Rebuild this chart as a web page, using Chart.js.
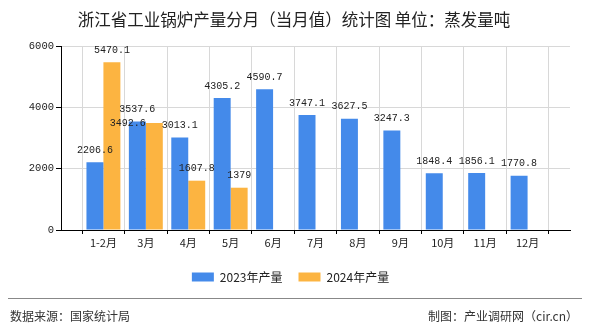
<!DOCTYPE html>
<html>
<head>
<meta charset="utf-8">
<script src="https://cdn.jsdelivr.net/npm/chart.js@4/dist/chart.umd.min.js"></script>
<style>
html,body{margin:0;padding:0;background:#fff;}
#wrap{width:590px;height:330px;position:relative;}
</style>
</head>
<body>
<div id="wrap"><canvas id="c" width="590" height="330"></canvas></div>
<script>
const categories = ['1-2月','3月','4月','5月','6月','7月','8月','9月','10月','11月','12月'];
const series2023 = [2206.6,3537.6,3013.1,4305.2,4590.7,3747.1,3627.5,3247.3,1848.4,1856.1,1770.8];
const series2024 = [5470.1,3492.6,1607.8,1379,null,null,null,null,null,null,null];
const seriesNames = ['2023年产量','2024年产量'];
const yTicks = [0,2000,4000,6000];
const titleText = '浙江省工业锅炉产量分月（当月值）统计图 单位：蒸发量吨';
const sourceText = '数据来源：国家统计局';
const creditText = '制图：产业调研网（cir.cn）';

// pad one empty slot at each end so categories sit on grid lines
const labels = [''].concat(categories, ['']);
const pad = arr => [null].concat(arr, [null]);

const numFont = "'Liberation Mono', 'DejaVu Sans Mono', monospace";
const cjkFont = "'Noto Sans CJK SC', 'Noto Sans', sans-serif";

const decor = {
  id: 'decor',
  afterDatasetsDraw(chart) {
    const ctx = chart.ctx;
    ctx.save();
    ctx.font = '10px ' + numFont;
    ctx.fillStyle = '#222';
    ctx.textAlign = 'center';
    ctx.textBaseline = 'middle';
    const placed = [];
    const h = 11;
    const overlaps = r => placed.some(p => r.x0 < p.x1 && r.x1 > p.x0 && r.y0 < p.y1 && r.y1 > p.y0);
    chart.data.datasets.forEach((ds, di) => {
      const meta = chart.getDatasetMeta(di);
      meta.data.forEach((bar, i) => {
        const v = ds.data[i];
        if (v === null || v === undefined) return;
        const t = String(v);
        const w = ctx.measureText(t).width;
        let cx = bar.x, cy = bar.y - 12;
        let r = { x0: cx - w / 2, x1: cx + w / 2, y0: cy - h / 2, y1: cy + h / 2 };
        if (overlaps(r)) {
          // move beside the bar (to its left), level with its top
          cx = bar.x - bar.width / 2 - w / 2;
          cy = bar.y;
          r = { x0: cx - w / 2, x1: cx + w / 2, y0: cy - h / 2, y1: cy + h / 2 };
        }
        placed.push(r);
        ctx.fillText(t, cx, cy);
      });
    });
    ctx.restore();
  },
  afterDraw(chart) {
    const ctx = chart.ctx;
    ctx.save();
    ctx.fillStyle = '#222';
    ctx.font = '16.5px ' + cjkFont;
    ctx.textAlign = 'center';
    ctx.textBaseline = 'middle';
    ctx.fillText(titleText, 294, 20);
    ctx.strokeStyle = '#888';
    ctx.lineWidth = 1;
    ctx.beginPath();
    ctx.moveTo(8, 298.5);
    ctx.lineTo(582, 298.5);
    ctx.stroke();
    ctx.font = '12px ' + cjkFont;
    ctx.fillStyle = '#333';
    ctx.textAlign = 'left';
    ctx.fillText(sourceText, 10, 316);
    ctx.textAlign = 'right';
    ctx.fillText(creditText, 578, 316);
    ctx.restore();
  }
};

new Chart(document.getElementById('c'), {
  type: 'bar',
  data: {
    labels: labels,
    datasets: [
      { label: seriesNames[0], data: pad(series2023), backgroundColor: '#448AEA', borderWidth: 0 },
      { label: seriesNames[1], data: pad(series2024), backgroundColor: '#FCB441', borderWidth: 0 }
    ]
  },
  options: {
    responsive: false,
    animation: false,
    devicePixelRatio: 1,
    layout: { padding: { top: 46, right: 20, bottom: 37, left: 11 } },
    datasets: { bar: { categoryPercentage: 0.8, barPercentage: 1.0 } },
    plugins: {
      title: { display: false },
      tooltip: { enabled: false },
      legend: {
        display: true,
        position: 'bottom',
        labels: {
          boxWidth: 22,
          boxHeight: 9,
          padding: 16,
          color: '#222',
          font: { size: 12, family: cjkFont }
        }
      }
    },
    scales: {
      x: {
        type: 'category',
        offset: false,
        grid: { display: true, color: '#d8d8d8', tickColor: '#000', tickLength: 4, drawOnChartArea: true },
        border: { display: true, color: '#000', width: 1 },
        ticks: { color: '#222', font: { size: 11, family: cjkFont }, maxRotation: 0, autoSkip: false, padding: 2 },
        afterFit(scale) { scale.height = 25; }
      },
      y: {
        min: 0,
        max: 6000,
        afterBuildTicks(scale) { scale.ticks = yTicks.map(v => ({ value: v })); },
        grid: { display: true, color: '#d8d8d8', tickColor: '#000', tickLength: 5 },
        border: { display: true, color: '#000', width: 1 },
        ticks: { color: '#222', font: { size: 10.5, family: numFont }, padding: 2, callback: v => String(v) },
        afterFit(scale) { scale.width = 50; }
      }
    }
  },
  plugins: [decor]
});
</script>
</body>
</html>
